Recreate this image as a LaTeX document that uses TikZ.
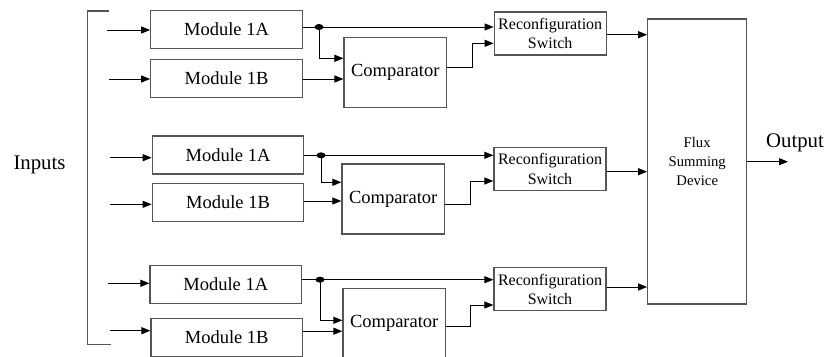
\documentclass[tikz,border=0pt]{standalone}
\usepackage{fontspec}
\setmainfont{Liberation Serif}
\usetikzlibrary{arrows.meta}
\definecolor{boxgray}{HTML}{555555}

\begin{document}
\begin{tikzpicture}[x=1pt,y=-1pt,
  module/.style={draw=boxgray,line width=1.2pt,inner sep=0pt,
    minimum width=151.5pt,minimum height=38pt,font=\fontsize{18.5}{22}\selectfont},
  comp/.style={draw=boxgray,line width=1.2pt,inner sep=0pt,
    minimum width=102.5pt,minimum height=70pt,font=\fontsize{18.5}{22}\selectfont},
  switchbox/.style={draw=boxgray,line width=1.2pt,inner sep=0pt,align=center,
    minimum width=112pt,minimum height=43pt,font=\fontsize{16}{19.5}\selectfont},
  fluxbox/.style={draw=boxgray,line width=1.2pt,inner sep=0pt,align=center,
    minimum width=99pt,minimum height=285pt,font=\fontsize{14.7}{19.3}\selectfont},
  label/.style={inner sep=0pt,font=\fontsize{20.8}{24}\selectfont},
  wire/.style={line width=1pt,black},
  conn/.style={wire,-{Triangle[length=9pt,width=7pt]}},
  bracket/.style={draw=boxgray,line width=1.2pt}]

\useasboundingbox (0,0) rectangle (829,356);
\clip (0,0) rectangle (829,356);

% module / comparator / switch blocks of the three channels
\node[module] (A1) at (226.5,29.2) {Module 1A};
\node[module] (B1) at (226.5,78.3) {Module 1B};
\node[comp] (C1) at (395.3,72.3) {Comparator};
\node[switchbox] (S1) at (550.2,33.5) {Reconfiguration\\Switch};

\node[module] (A2) at (228,154.9) {Module 1A};
\node[module] (B2) at (228,202.2) {Module 1B};
\node[comp] (C2) at (393.2,199) {Comparator};
\node[switchbox] (S2) at (550,168.8) {Reconfiguration\\Switch};

\node[module] (A3) at (225.8,284.5) {Module 1A};
\node[module] (B3) at (226.7,337.3) {Module 1B};
\node[comp] (C3) at (394.2,323.3) {Comparator};
\node[switchbox] (S3) at (550,289.3) {Reconfiguration\\Switch};

% summing device and labels
\node[fluxbox] (F) at (697.2,161.5) {Flux\\Summing\\Device};
\node[label] (inp) at (39.5,165) {Inputs};
\node[label] (outp) at (795,143.3) {Output};

% input bracket
\coordinate (bt) at (109,11);
\coordinate (btc) at (87.7,11);
\coordinate (bbc) at (87.7,344.3);
\coordinate (bb) at (111,344.3);
\draw[bracket] (bt) -- (btc) -- (bbc) -- (bb);

% wiring of each channel
\foreach \g/\ia/\ib/\ax/\bx/\dx/\dy/\by/\cb/\co/\kx/\si/\so in {
  1/30/79/107/109/319/27/58.3/79/67.3/472.7/43.3/34.7,
  2/157.7/204.3/110/110/321/155.3/182.3/201/204.3/470.7/181/171.7,
  3/283.3/330.7/107.7/110/320/279.7/320.3/331.2/326.7/470.5/305/287}{
  \coordinate (inA\g) at (\ax,\ia);
  \coordinate (inB\g) at (\bx,\ib);
  \coordinate (dot\g) at (\dx,\dy);
  \coordinate (br\g) at (\dx,\by);
  \coordinate (cb\g) at (0,\cb);
  \coordinate (co\g) at (\kx,\co);
  \coordinate (si\g) at (\kx,\si);
  \coordinate (so\g) at (0,\so);
  \draw[conn] (inA\g) -- (inA\g -| A\g.west);
  \draw[conn] (inB\g) -- (inB\g -| B\g.west);
  \draw[wire] (dot\g -| A\g.east) -- (dot\g);
  \draw[conn] (dot\g) -- (dot\g -| S\g.west);
  \draw[conn] (dot\g) -- (br\g) -- (br\g -| C\g.west);
  \draw[conn] (cb\g -| B\g.east) -- (cb\g -| C\g.west);
  \draw[conn] (co\g -| C\g.east) -- (co\g) -- (si\g) -- (si\g -| S\g.west);
  \draw[conn] (so\g -| S\g.east) -- (so\g -| F.west);
  \fill (dot\g) ellipse [x radius=4.5, y radius=3];
}

% output
\coordinate (outE) at (788,161.7);
\draw[conn] (outE -| F.east) -- (outE);
\end{tikzpicture}
\end{document}
